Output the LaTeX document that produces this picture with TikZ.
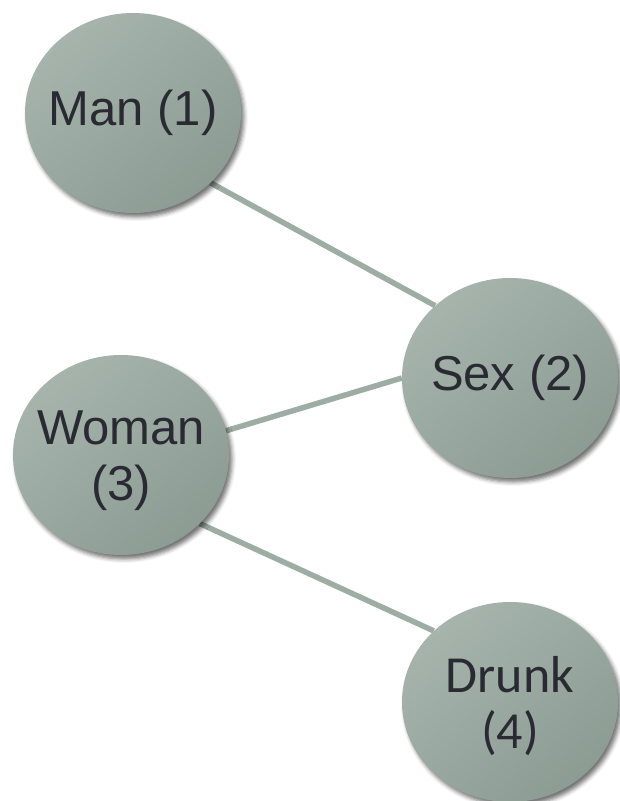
\documentclass[tikz,border=0pt]{standalone}
\usepackage{fontspec}
\setmainfont{Liberation Sans}
\newfontfamily\drunkfont{Carlito}
\usetikzlibrary{shapes.geometric,shadows.blur,backgrounds}
\definecolor{fillA}{HTML}{A6B4AC}
\definecolor{fillB}{HTML}{8C9C93}
\definecolor{edgec}{HTML}{9DADA4}
\definecolor{txt}{HTML}{2A2A33}
\tikzset{
  bubble/.style={ellipse, minimum width=216pt, minimum height=200pt, inner sep=0pt,
    top color=fillA, middle color=fillA, bottom color=fillB, shading angle=40,
    blur shadow={shadow xshift=3pt, shadow yshift=-4pt, shadow blur radius=4pt, shadow opacity=55}},
  bubbletext/.style={text=txt, align=center, inner sep=0pt, font=\fontsize{49}{56}\selectfont},
  link/.style={draw=edgec, line width=5.5pt}
}
\begin{document}
\begin{tikzpicture}[x=1pt,y=-1pt]
\useasboundingbox (0,0) rectangle (620,801);
\node[bubble] (man) at (133,113) {};
\node[bubble] (sex) at (510,378) {};
\node[bubble] (woman) at (121,455) {};
\node[bubble] (drunk) at (510,702) {};
\begin{pgfonlayer}{background}
\draw[link] (man.-42) -- (sex.136);
\draw[link] (woman.13) -- (sex.180);
\draw[link] (woman.-41) -- (drunk.137);
\end{pgfonlayer}
\node[bubbletext] (manlbl) at (man) {Man (1)};
\node[bubbletext] (sexlbl) at (sex) {Sex (2)};
\node[bubbletext, yshift=-6pt] (womanlbl) at (woman) {Woman\\(3)};
\node[bubbletext, yshift=-4pt, font=\drunkfont\fontsize{52}{56}\selectfont] (drunklbl) at (drunk) {Drunk\\(4)};
\end{tikzpicture}
\end{document}
